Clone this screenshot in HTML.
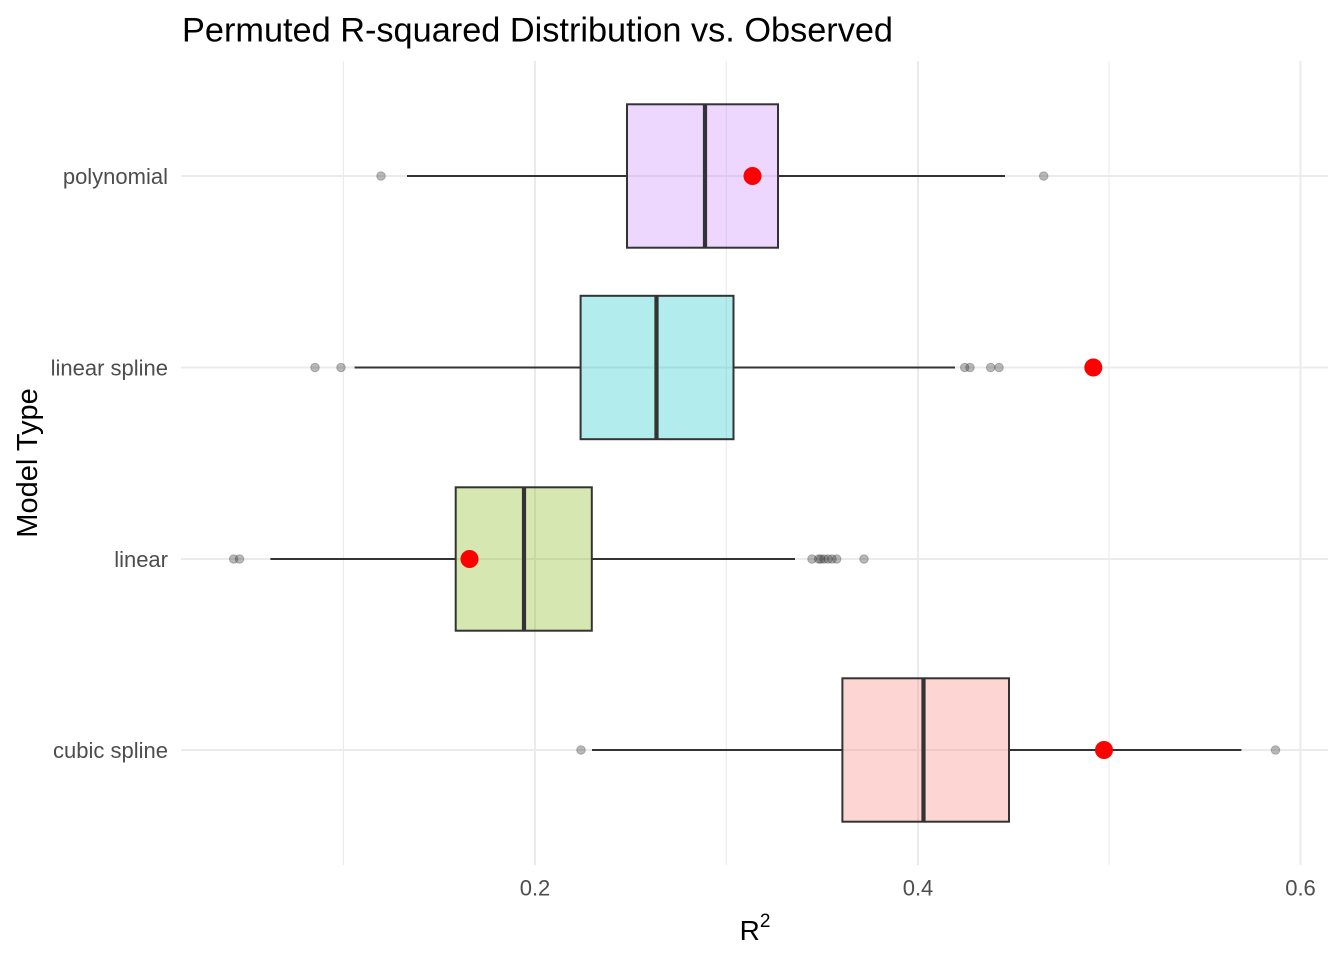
<!DOCTYPE html>
<html>
<head>
<meta charset="utf-8">
<style>
html,body{margin:0;padding:0;background:#fff;}
svg{display:block;}
text{font-family:"Liberation Sans",Arial,sans-serif;}
</style>
</head>
<body>
<svg width="1344" height="960" viewBox="0 0 1344 960" xmlns="http://www.w3.org/2000/svg">
<rect x="0" y="0" width="1344" height="960" fill="#ffffff"/>

<!-- minor vertical gridlines -->
<g stroke="#EBEBEB" stroke-width="1.1">
<line x1="343.4" y1="61" x2="343.4" y2="865"/>
<line x1="726.3" y1="61" x2="726.3" y2="865"/>
<line x1="1109" y1="61" x2="1109" y2="865"/>
</g>
<!-- major gridlines -->
<g stroke="#EBEBEB" stroke-width="2">
<line x1="535" y1="61" x2="535" y2="865"/>
<line x1="918" y1="61" x2="918" y2="865"/>
<line x1="1300.5" y1="61" x2="1300.5" y2="865"/>
<line x1="181" y1="176" x2="1328" y2="176"/>
<line x1="181" y1="367.5" x2="1328" y2="367.5"/>
<line x1="181" y1="559" x2="1328" y2="559"/>
<line x1="181" y1="750" x2="1328" y2="750"/>
</g>

<!-- whiskers -->
<g stroke="#333333" stroke-width="2">
<line x1="407" y1="176" x2="627" y2="176"/>
<line x1="778" y1="176" x2="1005" y2="176"/>
<line x1="354.6" y1="367.5" x2="580.6" y2="367.5"/>
<line x1="733.5" y1="367.5" x2="955" y2="367.5"/>
<line x1="270.4" y1="559" x2="455.7" y2="559"/>
<line x1="591.8" y1="559" x2="795" y2="559"/>
<line x1="592" y1="750" x2="842.4" y2="750"/>
<line x1="1009" y1="750" x2="1241.4" y2="750"/>
</g>

<!-- boxes -->
<g stroke="#333333" stroke-width="2">
<rect x="627" y="104.3" width="151" height="143.4" fill="#C77CFF" fill-opacity="0.3"/>
<rect x="580.6" y="295.8" width="152.9" height="143.4" fill="#00BFC4" fill-opacity="0.3"/>
<rect x="455.7" y="487.3" width="136.1" height="143.4" fill="#7CAE00" fill-opacity="0.3"/>
<rect x="842.4" y="678.3" width="166.6" height="143.4" fill="#F8766D" fill-opacity="0.3"/>
</g>
<!-- medians -->
<g stroke="#333333" stroke-width="4.2">
<line x1="705" y1="104.3" x2="705" y2="247.7"/>
<line x1="656.5" y1="295.8" x2="656.5" y2="439.2"/>
<line x1="524" y1="487.3" x2="524" y2="630.7"/>
<line x1="923.5" y1="678.3" x2="923.5" y2="821.7"/>
</g>

<!-- outliers -->
<g fill="#333333" fill-opacity="0.34" stroke="#333333" stroke-opacity="0.3" stroke-width="1">
<circle cx="381" cy="176" r="4.3"/>
<circle cx="1043.7" cy="176" r="4.3"/>
<circle cx="315" cy="367.5" r="4.3"/>
<circle cx="341" cy="367.5" r="4.3"/>
<circle cx="964.7" cy="367.5" r="4.3"/>
<circle cx="970" cy="367.5" r="4.3"/>
<circle cx="990.7" cy="367.5" r="4.3"/>
<circle cx="999" cy="367.5" r="4.3"/>
<circle cx="233.7" cy="559" r="4.3"/>
<circle cx="239.5" cy="559" r="4.3"/>
<circle cx="812" cy="559" r="4.3"/>
<circle cx="818.6" cy="559" r="4.3"/>
<circle cx="820.7" cy="559" r="4.3"/>
<circle cx="824" cy="559" r="4.3"/>
<circle cx="828" cy="559" r="4.3"/>
<circle cx="832" cy="559" r="4.3"/>
<circle cx="836.7" cy="559" r="4.3"/>
<circle cx="864" cy="559" r="4.3"/>
<circle cx="581" cy="750" r="4.3"/>
<circle cx="1275.5" cy="750" r="4.3"/>
</g>

<!-- observed -->
<g fill="#FF0000">
<circle cx="752.5" cy="176" r="9"/>
<circle cx="1093.3" cy="367.5" r="9"/>
<circle cx="469.5" cy="559" r="9"/>
<circle cx="1104" cy="750" r="9"/>
</g>

<!-- y tick labels -->
<g fill="#4D4D4D" font-size="22" text-anchor="end">
<text x="168" y="184">polynomial</text>
<text x="168" y="375.5">linear spline</text>
<text x="168" y="567">linear</text>
<text x="168" y="758">cubic spline</text>
</g>
<!-- x tick labels -->
<g fill="#4D4D4D" font-size="22" text-anchor="middle">
<text x="535" y="895.5">0.2</text>
<text x="918" y="895.5">0.4</text>
<text x="1300.5" y="895.5">0.6</text>
</g>

<!-- axis titles -->
<text x="755" y="940" font-size="28" fill="#000" text-anchor="middle">R<tspan font-size="19" dy="-13">2</tspan></text>
<text transform="translate(37,463) rotate(-90)" font-size="29" fill="#000" text-anchor="middle">Model Type</text>

<!-- title -->
<text x="182" y="41.5" font-size="34.3" fill="#000">Permuted R-squared Distribution vs. Observed</text>
</svg>
</body>
</html>
